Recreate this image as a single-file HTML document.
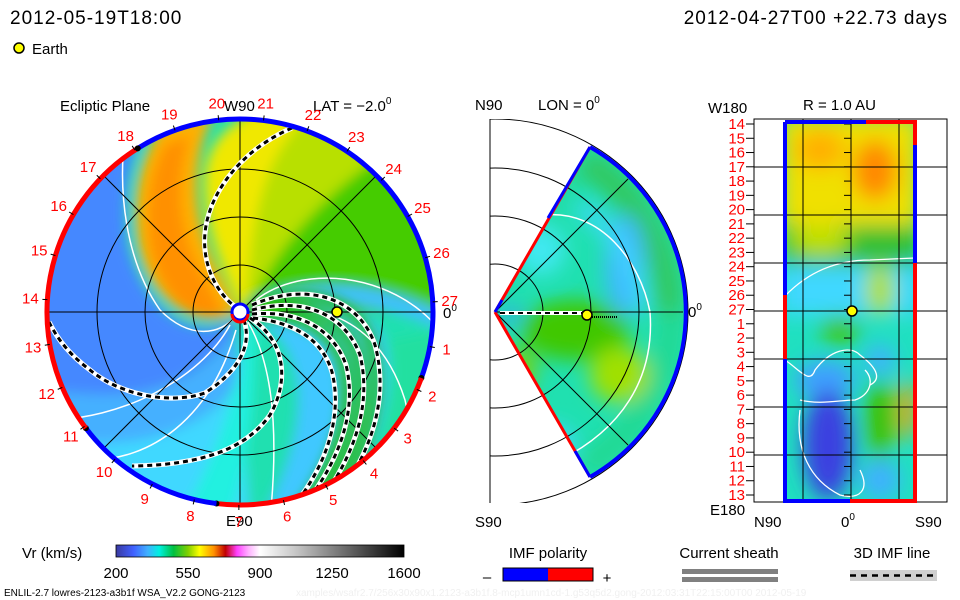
<!DOCTYPE html>
<html><head><meta charset="utf-8">
<style>
html,body{margin:0;padding:0;background:#fff;}
svg{display:block;font-family:"Liberation Sans",sans-serif;}
</style></head>
<body>
<svg id="root" width="960" height="600" viewBox="0 0 960 600" xmlns="http://www.w3.org/2000/svg">
<defs>
  <clipPath id="discClip"><circle cx="240" cy="312" r="193"/></clipPath>
  <clipPath id="wedgeClip"><path d="M495,312 L590,147 A190,190 0 0 1 590,477 Z"/></clipPath>
  <clipPath id="rectClip"><rect x="785" y="122" width="130" height="379"/></clipPath>
  <clipPath id="midFrame"><rect x="490" y="119" width="300" height="384"/></clipPath>
  <filter id="blur6" x="-20%" y="-20%" width="140%" height="140%"><feGaussianBlur stdDeviation="6"/></filter>
  <filter id="blur10" x="-30%" y="-30%" width="160%" height="160%"><feGaussianBlur stdDeviation="10"/></filter>
  <linearGradient id="cbar" x1="0" x2="1" y1="0" y2="0">
    <stop offset="0" stop-color="#3a3aa0"/><stop offset="0.06" stop-color="#4060ff"/>
    <stop offset="0.11" stop-color="#40b0ff"/><stop offset="0.15" stop-color="#00f0e0"/>
    <stop offset="0.2" stop-color="#00c040"/><stop offset="0.25" stop-color="#80d000"/>
    <stop offset="0.29" stop-color="#ffff00"/><stop offset="0.34" stop-color="#ff9000"/>
    <stop offset="0.38" stop-color="#c00000"/><stop offset="0.42" stop-color="#ff40ff"/>
    <stop offset="0.46" stop-color="#ffb0ff"/><stop offset="0.5" stop-color="#ffffff"/>
    <stop offset="0.62" stop-color="#c8c8c8"/><stop offset="1" stop-color="#000000"/>
  </linearGradient>
</defs>

<!-- header -->
<text x="10" y="24" font-size="19" letter-spacing="1">2012-05-19T18:00</text>
<text x="948" y="24" font-size="19" letter-spacing="1" text-anchor="end">2012-04-27T00 +22.73 days</text>
<g>
  <circle cx="19" cy="48" r="5" fill="#ffff00" stroke="#000" stroke-width="1.5"/>
  <text x="32" y="54" font-size="15">Earth</text>
</g>

<!-- ============ ECLIPTIC PLANE ============ -->
<g>
<text x="60" y="111" font-size="15">Ecliptic Plane</text>
<text x="224" y="111" font-size="15">W90</text>
<text x="313" y="111" font-size="15">LAT = −2.0<tspan font-size="10" dy="-7">0</tspan></text>
<text x="443" y="318" font-size="15">0<tspan font-size="10" dy="-7">0</tspan></text>
<text x="226" y="526" font-size="15">E90</text>
<g clip-path="url(#discClip)">
  <circle cx="240" cy="312" r="193" fill="#20e0b0"/>
  <g filter="url(#blur6)">
    <path d="M240,312 L240,100 A212,212 0 0 1 452,312 Z" fill="#44cc00"/>
    <path d="M246,305 C252,220 262,160 305,118 L390,150 C330,190 280,240 250,306 Z" fill="#b8e000"/>
    <path d="M240,308 C222,270 200,220 205,170 C210,140 230,122 258,112 L305,118 C262,160 252,220 246,305 Z" fill="#f0e800"/>
    <path d="M238,312 C200,333 150,305 138,245 C130,195 140,160 160,128 L215,112 C190,160 192,220 218,270 Z" fill="#ffb000"/>
    <path d="M225,315 C190,325 160,295 150,245 C145,205 150,175 165,145 L190,135 C175,180 178,230 200,270 Z" fill="#ff9000"/>
    <path d="M238,318 C198,345 145,315 128,245 C122,200 128,170 140,140 L60,160 L30,300 L40,390 C100,395 180,410 236,330 Z" fill="#4488ff"/>
    <path d="M40,390 C100,395 180,410 236,332 L240,380 C200,440 120,450 50,440 Z" fill="#44b0ff"/>
    <path d="M50,440 C120,450 200,440 242,380 L250,520 L60,520 Z" fill="#40d8ff"/>
    <path d="M250,316 C300,295 360,300 380,330 C400,380 380,450 330,520 L260,520 C300,450 310,380 280,340 C270,330 260,322 250,318 Z" fill="#40c8ff"/>
    <path d="M252,302 C320,270 400,290 440,312 L440,330 C400,310 330,290 254,310 Z" fill="#40c0ff"/>
    <path d="M258,318 C250,360 260,430 230,520 L180,520 C220,450 240,380 245,330 Z" fill="#20f0e0"/>
    <path d="M390,340 C400,400 380,460 340,520 L440,520 L440,330 Z" fill="#20e0a0"/>
  </g>
  <g filter="url(#blur6)" fill="none" stroke="#22bb00" stroke-width="9">
    <path d="M252,305 C310,285 355,300 370,340 C385,390 370,450 335,500"/>
    <path d="M252,311 C300,300 340,315 355,350 C370,400 355,450 318,505"/>
    <path d="M252,316 C295,312 330,327 342,362 C353,400 343,450 300,510"/>
  </g>
  <g fill="none" stroke="#fff" stroke-width="1.5">
    <path d="M125,135 C118,190 125,260 160,310 C190,340 220,335 236,316"/>
    <path d="M256,300 C300,265 390,270 440,330"/>
    <path d="M255,308 C320,300 380,320 405,400 C415,440 395,480 380,505"/>
    <path d="M248,322 C270,360 280,420 270,520"/>
    <path d="M230,325 C200,380 120,420 47,420"/>
    <path d="M236,330 C210,420 150,460 90,460"/>
  </g>
  <g fill="none" stroke="#000" stroke-width="1">
    <circle cx="240" cy="312" r="47"/><circle cx="240" cy="312" r="95"/><circle cx="240" cy="312" r="143"/>
    <line x1="47" y1="312" x2="433" y2="312"/><line x1="240" y1="119" x2="240" y2="505"/>
    <line x1="104" y1="176" x2="376" y2="448"/><line x1="104" y1="448" x2="376" y2="176"/>
  </g>
  <g fill="none">
    <g stroke="#fff" stroke-width="5">
      <path d="M292,128 C240,150 200,200 205,250 C208,280 225,300 237,308"/>
      <path d="M244,320 C252,345 240,370 205,393 C170,405 120,395 90,370 C70,355 58,340 49,322"/>
      <path d="M250,318 C285,340 290,380 270,415 C245,450 200,465 132,466"/>
      <path d="M252,305 C310,280 360,300 375,345 C390,400 370,455 335,500"/>
      <path d="M252,310 C305,296 345,315 360,355 C372,405 355,455 318,505"/>
      <path d="M252,314 C298,310 333,328 346,365 C356,405 345,455 302,508"/>
      <path d="M253,318 C292,322 322,338 332,372 C342,412 330,462 292,508"/>
    </g>
    <g stroke="#000" stroke-width="3" stroke-dasharray="5,4">
      <path d="M292,128 C240,150 200,200 205,250 C208,280 225,300 237,308"/>
      <path d="M244,320 C252,345 240,370 205,393 C170,405 120,395 90,370 C70,355 58,340 49,322"/>
      <path d="M250,318 C285,340 290,380 270,415 C245,450 200,465 132,466"/>
      <path d="M252,305 C310,280 360,300 375,345 C390,400 370,455 335,500"/>
      <path d="M252,310 C305,296 345,315 360,355 C372,405 355,455 318,505"/>
      <path d="M252,314 C298,310 333,328 346,365 C356,405 345,455 302,508"/>
      <path d="M253,318 C292,322 322,338 332,372 C342,412 330,462 292,508"/>
    </g>
  </g>
</g>
<g id="rimG"></g>
<circle cx="240" cy="312" r="8" fill="#fff" stroke="#0000ff" stroke-width="3"/>
<path d="M232,314 A8,8 0 0 0 248,314" fill="none" stroke="#ff0000" stroke-width="3"/>
<circle cx="337" cy="312" r="5" fill="#ffff00" stroke="#000" stroke-width="1.5"/>
<g id="lonLabels" fill="#ff0000" font-size="15"></g>
</g>

<!-- ============ MERIDIONAL PANEL ============ -->
<g>
<text x="475" y="110" font-size="15">N90</text>
<text x="538" y="110" font-size="15">LON = 0<tspan font-size="10" dy="-7">0</tspan></text>
<text x="688" y="317" font-size="15">0<tspan font-size="10" dy="-7">0</tspan></text>
<text x="475" y="527" font-size="15">S90</text>
<line x1="490" y1="119" x2="490" y2="503" stroke="#000"/>
<g clip-path="url(#wedgeClip)">
  <rect x="490" y="119" width="200" height="384" fill="#20e0b0"/>
  <g filter="url(#blur10)">
    <path d="M495,312 L590,147 A190,190 0 0 1 683,312 L655,312 A160,160 0 0 0 578,175 Z" fill="#30c860"/>
    <path d="M590,477 A190,190 0 0 0 683,312 L660,312 A165,165 0 0 1 580,455 Z" fill="#20d890"/>
    <ellipse cx="625" cy="265" rx="20" ry="50" fill="#40b8ff"/>
    <path d="M585,200 A145,145 0 0 1 648,312 L635,312 A132,132 0 0 0 575,212 Z" fill="#40d8ff"/>
    <ellipse cx="575" cy="330" rx="55" ry="30" fill="#40c800"/>
    <ellipse cx="620" cy="375" rx="30" ry="28" fill="#a0e000"/>
    <ellipse cx="540" cy="250" rx="25" ry="25" fill="#40e8f0"/>
    <ellipse cx="550" cy="445" rx="25" ry="20" fill="#40d8ff"/>
    <ellipse cx="520" cy="370" rx="15" ry="20" fill="#80d000"/>
    <ellipse cx="510" cy="315" rx="12" ry="6" fill="#4090ff"/>
  </g>
  <path d="M545,215 C600,210 640,260 650,312 C655,380 620,430 560,460" fill="none" stroke="#fff" stroke-width="1.5"/>
</g>
<g clip-path="url(#midFrame)" fill="none" stroke="#000" stroke-width="1">
  <circle cx="495" cy="312" r="48"/><circle cx="495" cy="312" r="96"/><circle cx="495" cy="312" r="144"/><circle cx="495" cy="312" r="193"/>
  <line x1="495" y1="312" x2="683" y2="312"/>
  <line x1="495" y1="312" x2="628" y2="179"/><line x1="495" y1="312" x2="628" y2="445"/>
</g>
<path d="M590,147 A190,190 0 0 1 590,477" fill="none" stroke="#0000ff" stroke-width="4"/>
<path d="M495,312 L590,147" stroke="#ff0000" stroke-width="3"/>
<path d="M548,218 L590,147" stroke="#0000ff" stroke-width="3"/>
<path d="M495,312 L590,477" stroke="#ff0000" stroke-width="3"/>
<path d="M575,451 L590,477" stroke="#0000ff" stroke-width="3"/>
<path d="M495,312 L502,300" stroke="#0000ff" stroke-width="3"/>
<line x1="500" y1="313" x2="582" y2="313" stroke="#fff" stroke-width="4"/>
<line x1="500" y1="313" x2="582" y2="313" stroke="#000" stroke-width="2" stroke-dasharray="5,4"/>
<line x1="592" y1="317" x2="618" y2="317" stroke="#000" stroke-width="2" stroke-dasharray="1,1"/>
<circle cx="587" cy="315" r="5" fill="#ffff00" stroke="#000" stroke-width="1.5"/>
</g>

<!-- ============ 1 AU PANEL ============ -->
<g>
<text x="708" y="113" font-size="15">W180</text>
<text x="803" y="110" font-size="15">R = 1.0 AU</text>
<text x="710" y="515" font-size="15">E180</text>
<text x="754" y="527" font-size="15">N90</text>
<text x="841" y="527" font-size="15">0<tspan font-size="10" dy="-7">0</tspan></text>
<text x="915" y="527" font-size="15">S90</text>
<g clip-path="url(#rectClip)">
  <rect x="785" y="122" width="130" height="379" fill="#20e0c0"/>
  <g filter="url(#blur10)">
    <rect x="780" y="115" width="140" height="110" fill="#f0e000"/>
    <ellipse cx="820" cy="150" rx="25" ry="20" fill="#ffb000"/>
    <ellipse cx="875" cy="170" rx="22" ry="30" fill="#ff8800"/>
    <rect x="780" y="225" width="140" height="40" fill="#30c030"/>
    <ellipse cx="820" cy="240" rx="30" ry="15" fill="#c0e000"/>
    <rect x="780" y="265" width="140" height="50" fill="#40d8ff"/>
    <ellipse cx="880" cy="290" rx="15" ry="25" fill="#b0e000"/>
    <ellipse cx="840" cy="330" rx="20" ry="15" fill="#40c800"/>
    <ellipse cx="825" cy="380" rx="30" ry="20" fill="#40a0ff"/>
    <ellipse cx="828" cy="445" rx="25" ry="55" fill="#3a40e0"/>
    <ellipse cx="880" cy="420" rx="15" ry="40" fill="#40c000"/>
    <ellipse cx="908" cy="410" rx="8" ry="30" fill="#ffa000"/>
    <ellipse cx="880" cy="360" rx="15" ry="15" fill="#40b0ff"/>
    <ellipse cx="880" cy="480" rx="20" ry="20" fill="#40b0ff"/>
  </g>
  <g fill="none" stroke="#fff" stroke-width="1.3">
    <path d="M785,296 C810,270 840,260 870,260 L915,258"/>
    <path d="M785,360 C800,370 810,385 815,370 C830,350 850,345 860,355 C880,370 880,380 870,385"/>
    <path d="M800,400 C820,405 840,400 855,400 C870,395 875,380 865,370"/>
    <path d="M800,410 C795,450 810,480 840,495 C860,500 870,490 860,470"/>
  </g>
</g>
<rect x="754" y="119" width="193" height="383" fill="none" stroke="#000"/>
<g id="auGrid" stroke="#000" stroke-width="1"></g>
<path d="M785,122 L785,295" stroke="#0000ff" stroke-width="4"/>
<path d="M785,295 L785,359" stroke="#ff0000" stroke-width="4"/>
<path d="M785,359 L785,501 L850,501" fill="none" stroke="#0000ff" stroke-width="4"/>
<path d="M850,501 L915,501 L915,263" fill="none" stroke="#ff0000" stroke-width="4"/>
<path d="M915,263 L915,145" stroke="#0000ff" stroke-width="4"/>
<path d="M915,145 L915,122 L866,122" fill="none" stroke="#ff0000" stroke-width="4"/>
<path d="M866,122 L785,122" stroke="#0000ff" stroke-width="4"/>
<g id="auLabels" fill="#ff0000" font-size="15" text-anchor="end"></g>
<circle cx="852" cy="311" r="5" fill="#ffff00" stroke="#000" stroke-width="1.5"/>
</g>

<!-- ============ LEGENDS ============ -->
<g>
  <text x="22" y="558" font-size="15">Vr (km/s)</text>
  <rect x="116" y="545" width="288" height="12" fill="url(#cbar)" stroke="#000" stroke-width="0.8"/>
  <g id="cbarTicks" font-size="15" text-anchor="middle"></g>
</g>
<g>
  <text x="548" y="558" font-size="15" text-anchor="middle">IMF polarity</text>
  <text x="487" y="582" font-size="15" text-anchor="middle">–</text>
  <rect x="503" y="568" width="45" height="13" fill="#0000ff"/>
  <rect x="548" y="568" width="45" height="13" fill="#ff0000"/>
  <rect x="503" y="568" width="90" height="13" fill="none" stroke="#000"/>
  <text x="607" y="583" font-size="15" text-anchor="middle">+</text>
</g>
<g>
  <text x="729" y="558" font-size="15" text-anchor="middle">Current sheath</text>
  <rect x="682" y="569" width="96" height="5" fill="#808080"/>
  <rect x="682" y="577" width="96" height="5" fill="#808080"/>
</g>
<g>
  <text x="892" y="558" font-size="15" text-anchor="middle">3D IMF line</text>
  <rect x="850" y="570" width="87" height="11" fill="#d0d0d0"/>
  <line x1="850" y1="575.5" x2="937" y2="575.5" stroke="#000" stroke-width="2.5" stroke-dasharray="6,5"/>
</g>
<text x="4" y="596" font-size="10">ENLIL-2.7 lowres-2123-a3b1f WSA_V2.2 GONG-2123</text>
<text x="296" y="596" font-size="10" fill="#f0f0f0">xamples/wsafr2.7/256x30x90x1.2123-a3b1f.8-mcp1umn1cd-1.g53q5d2.gong-2012:03:31T22:15:00T00  2012-05-19</text>
</svg>
<script>
const lonLabels = ["27","26","25","24","23","22","21","20","19","18","17","16","15","14","13","12","11","10","9","8","7","6","5","4","3","2","1"];
const cbarValues = [200, 550, 900, 1250, 1600];
const auLabels = ["14","15","16","17","18","19","20","21","22","23","24","25","26","27","1","2","3","4","5","6","7","8","9","10","11","12","13"];
const rimStart = [122, -20, -97, -143];
const rimEnd = [-20, -97, -143, -238];
const rimPolarity = ["-", "+", "-", "+"];

const NS = "http://www.w3.org/2000/svg";
const cx = 240, cy = 312, R = 193;
function ang(i){ return (3 + i * 360 / 27) * Math.PI / 180; }
function pol(a, r){ return [cx + r * Math.cos(a), cy - r * Math.sin(a)]; }

const lg = document.getElementById("lonLabels");
lonLabels.forEach((t, i) => {
  const a = ang(i);
  const [x, y] = pol(a, 210);
  const el = document.createElementNS(NS, "text");
  
  
  el.setAttribute("x", x.toFixed(1));
  el.setAttribute("y", (y + 5).toFixed(1));
  el.setAttribute("text-anchor", "middle");
  el.textContent = t;
  lg.appendChild(el);
  const [x1, y1] = pol(a, R);
  const [x2, y2] = pol(a, R + 5);
  const tk = document.createElementNS(NS, "line");
  
  
  tk.setAttribute("x1", x1); tk.setAttribute("y1", y1);
  tk.setAttribute("x2", x2); tk.setAttribute("y2", y2);
  tk.setAttribute("stroke", "#000");
  lg.appendChild(tk);
});

const rg = document.getElementById("rimG");
rimStart.forEach((s, i) => {
  const e = rimEnd[i];
  const a0 = s * Math.PI / 180, a1 = e * Math.PI / 180;
  const [x0, y0] = pol(a0, R), [x1, y1] = pol(a1, R);
  const large = Math.abs(s - e) > 180 ? 1 : 0;
  const p = document.createElementNS(NS, "path");
  
  
  p.setAttribute("d", `M${x0},${y0} A${R},${R} 0 ${large} 1 ${x1},${y1}`);
  p.setAttribute("fill", "none");
  p.setAttribute("stroke", rimPolarity[i] === "-" ? "#0000ff" : "#ff0000");
  p.setAttribute("stroke-width", "5");
  rg.appendChild(p);
  const [bx, by] = pol(a1, R);
  const b = document.createElementNS(NS, "circle");
  
  
  b.setAttribute("cx", bx); b.setAttribute("cy", by); b.setAttribute("r", "3");
  b.setAttribute("fill", "#000");
  rg.appendChild(b);
});

const cg = document.getElementById("cbarTicks");
const vmin = 200, vmax = 1600, bx0 = 116, bw = 288;
cbarValues.forEach(v => {
  const x = bx0 + (v - vmin) / (vmax - vmin) * bw;
  const t = document.createElementNS(NS, "text");
  
  
  t.setAttribute("x", x); t.setAttribute("y", "578");
  t.textContent = v;
  cg.appendChild(t);
});

const ag = document.getElementById("auLabels");
const gg = document.getElementById("auGrid");
const yTop = 124, yStep = (495 - 124) / 26;
auLabels.forEach((t, i) => {
  const y = yTop + i * yStep;
  const el = document.createElementNS(NS, "text");
  
  
  el.setAttribute("x", "745"); el.setAttribute("y", (y + 5).toFixed(1));
  el.textContent = t;
  ag.appendChild(el);
  const tk = document.createElementNS(NS, "line");
  
  
  tk.setAttribute("x1", "746"); tk.setAttribute("x2", "754");
  tk.setAttribute("y1", y); tk.setAttribute("y2", y);
  gg.appendChild(tk);
  const tk2 = document.createElementNS(NS, "line");
  
  
  tk2.setAttribute("x1", "844"); tk2.setAttribute("x2", "851");
  tk2.setAttribute("y1", y); tk2.setAttribute("y2", y);
  gg.appendChild(tk2);
});
[167, 215, 263, 311, 359, 407, 455].forEach(y => {
  const l = document.createElementNS(NS, "line");
  
  
  l.setAttribute("x1", "754"); l.setAttribute("x2", "947");
  l.setAttribute("y1", y); l.setAttribute("y2", y);
  gg.appendChild(l);
});
[803, 851, 899].forEach(x => {
  const l = document.createElementNS(NS, "line");
  
  
  l.setAttribute("x1", x); l.setAttribute("x2", x);
  l.setAttribute("y1", "119"); l.setAttribute("y2", "502");
  gg.appendChild(l);
});
</script>
</body></html>
